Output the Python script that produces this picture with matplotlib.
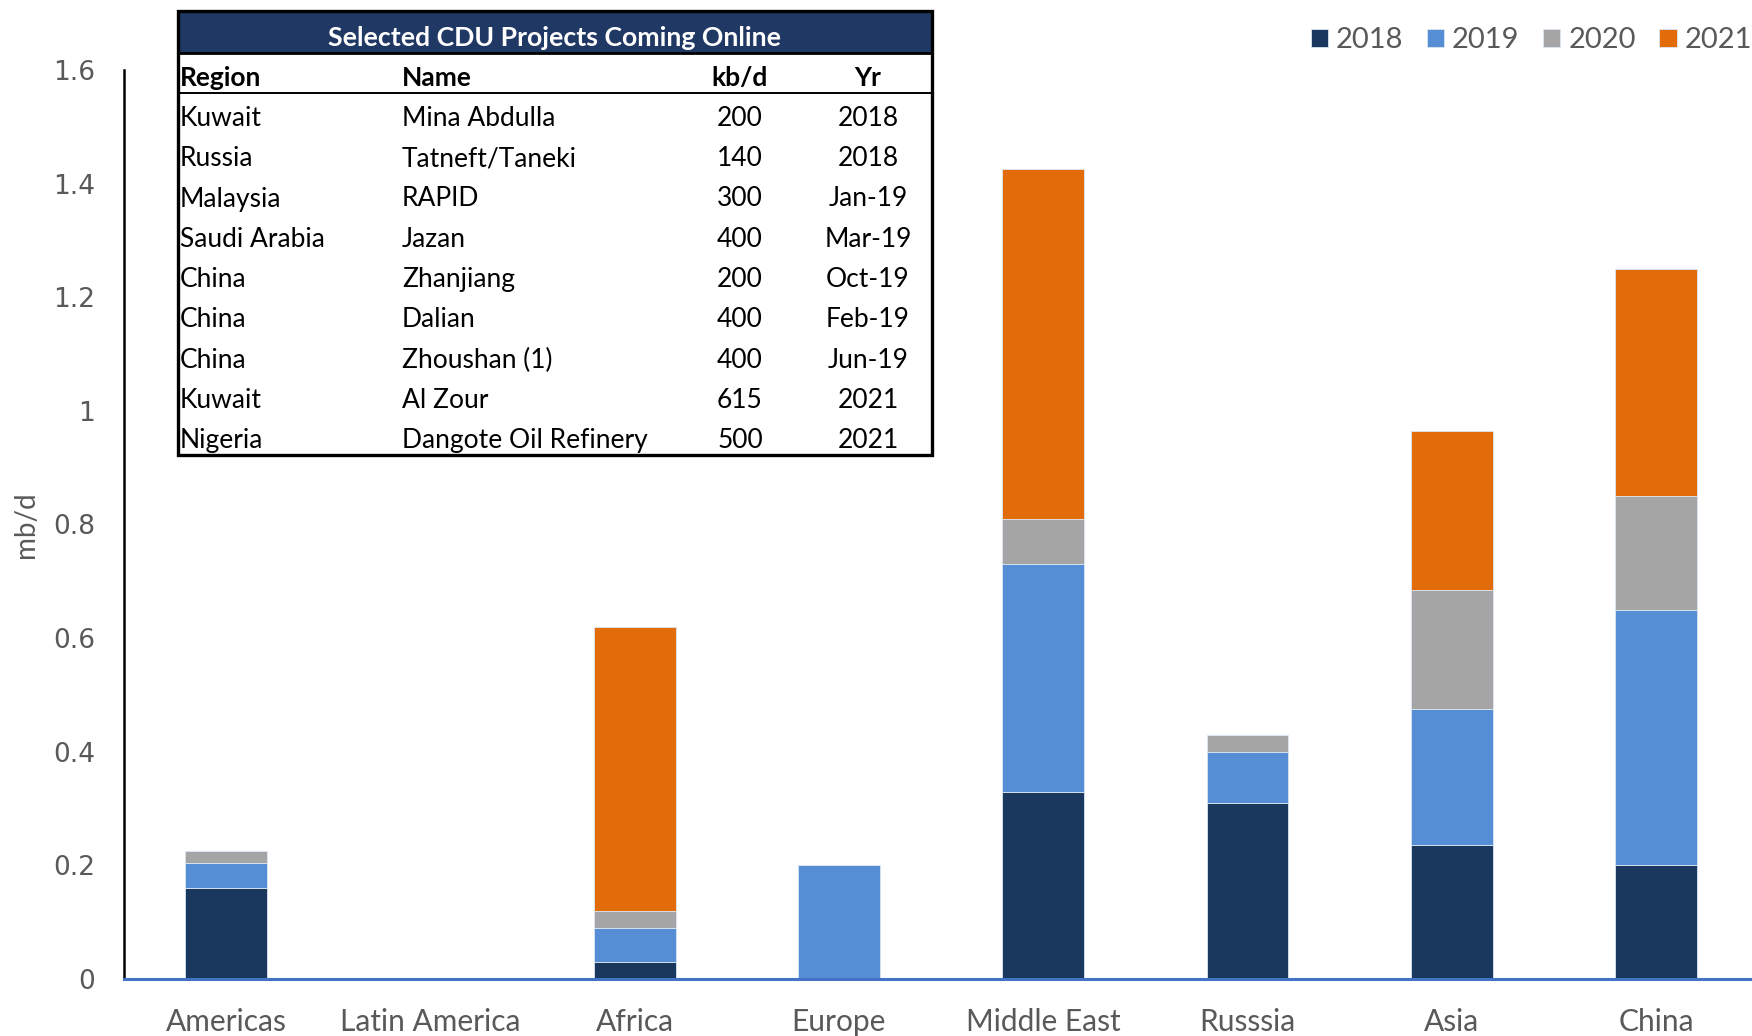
import matplotlib.pyplot as plt
import numpy as np
from matplotlib.patches import Rectangle

categories = ["Americas", "Latin America", "Africa", "Europe",
              "Middle East", "Russsia", "Asia", "China"]
years = ["2018", "2019", "2020", "2021"]
v2018 = [0.16, 0.0, 0.03, 0.0, 0.33, 0.31, 0.235, 0.20]
v2019 = [0.045, 0.0, 0.06, 0.20, 0.40, 0.09, 0.24, 0.45]
v2020 = [0.02, 0.0, 0.03, 0.0, 0.08, 0.03, 0.21, 0.20]
v2021 = [0.0, 0.0, 0.50, 0.0, 0.615, 0.0, 0.28, 0.40]

tbl_region = ["Kuwait", "Russia", "Malaysia", "Saudi Arabia", "China",
              "China", "China", "Kuwait", "Nigeria"]
tbl_name = ["Mina Abdulla", "Tatneft/Taneki", "RAPID", "Jazan", "Zhanjiang",
            "Dalian", "Zhoushan (1)", "Al Zour", "Dangote Oil Refinery"]
tbl_kbd = ["200", "140", "300", "400", "200", "400", "400", "615", "500"]
tbl_yr = ["2018", "2018", "Jan-19", "Mar-19", "Oct-19", "Feb-19", "Jun-19",
          "2021", "2021"]

colors = ["#1a375e", "#558ed5", "#a5a5a5", "#e36c0a"]
GREY = "#595959"
FONT = "Lato"

W, H = 1752, 1036
fig = plt.figure(figsize=(W / 100, H / 100), dpi=100)
ax = fig.add_axes([124 / W, 1 - 979 / H, 1 - 124 / W, (979 - 70) / H])

x = np.arange(len(categories))
bottom = np.zeros(len(categories))
handles = []
for vals, col, lab in zip([v2018, v2019, v2020, v2021], colors, years):
    vals = np.array(vals)
    b = ax.bar(x, vals, 0.4, bottom=bottom, color=col, label=lab,
               edgecolor="#dce6f2", linewidth=0.6)
    handles.append(b)
    bottom += vals

ax.set_xlim(-0.5, 7.47)
ax.set_ylim(0, 1.6)
ax.set_yticks(np.arange(0, 1.61, 0.2))
ax.set_yticklabels(["0", "0.2", "0.4", "0.6", "0.8", "1", "1.2", "1.4", "1.6"])
ax.set_xticks(x)
ax.set_xticklabels(categories, family=FONT, fontsize=21.5, color=GREY)
ax.tick_params(axis="y", length=0, pad=21, labelsize=19, labelcolor=GREY)
ax.tick_params(axis="x", length=0, pad=21)
for s in ["top", "right"]:
    ax.spines[s].set_visible(False)
ax.spines["left"].set_color("black")
ax.spines["left"].set_linewidth(1.8)
ax.spines["bottom"].set_color("#4472c4")
ax.spines["bottom"].set_linewidth(2.2)
ax.set_ylabel("mb/d", family=FONT, fontsize=20, color=GREY)
ax.yaxis.set_label_coords(-0.052, 0.5)

fig.legend(handles=handles, loc="upper right", bbox_to_anchor=(1.015, 0.999),
           ncol=4, frameon=False, prop={"family": FONT, "size": 21},
           labelcolor=GREY, handlelength=0.6, handleheight=0.6,
           handletextpad=0.27, columnspacing=0.8)

# table overlay in pixel coordinates
tax = fig.add_axes([0, 0, 1, 1], zorder=5)
tax.set_xlim(0, W)
tax.set_ylim(H, 0)
tax.axis("off")

tx0, tx1, ty0, ty1 = 178, 932, 11, 455
tax.add_patch(Rectangle((tx0, ty0), tx1 - tx0, ty1 - ty0, facecolor="white",
                        edgecolor="none"))
tax.add_patch(Rectangle((tx0, ty0), tx1 - tx0, 42, facecolor="#203864",
                        edgecolor="none"))
tax.add_patch(Rectangle((tx0, ty0), tx1 - tx0, ty1 - ty0, facecolor="none",
                        edgecolor="black", linewidth=2.4))
tax.plot([tx0, tx1], [53, 53], color="black", lw=2.0)
tax.plot([tx0, tx1], [93, 93], color="black", lw=1.4)
tax.text((tx0 + tx1) / 2, 38, "Selected CDU Projects Coming Online",
         ha="center", va="center", color="white", fontsize=19.2,
         fontweight="bold", family=FONT)

col_x = [180, 402, 740, 868]
hy = 78
tax.text(col_x[0], hy, "Region", ha="left", va="center", fontsize=19,
         fontweight="bold", family=FONT)
tax.text(col_x[1], hy, "Name", ha="left", va="center", fontsize=19,
         fontweight="bold", family=FONT)
tax.text(col_x[2], hy, "kb/d", ha="center", va="center", fontsize=19,
         fontweight="bold", family=FONT)
tax.text(col_x[3], hy, "Yr", ha="center", va="center", fontsize=19,
         fontweight="bold", family=FONT)

for i in range(len(tbl_region)):
    y = 118.5 + i * 40.25
    tax.text(col_x[0], y, tbl_region[i], ha="left", va="center", fontsize=19,
             family=FONT)
    tax.text(col_x[1], y, tbl_name[i], ha="left", va="center", fontsize=19,
             family=FONT)
    tax.text(col_x[2], y, tbl_kbd[i], ha="center", va="center", fontsize=19,
             family=FONT)
    tax.text(col_x[3], y, tbl_yr[i], ha="center", va="center", fontsize=19,
             family=FONT)

fig.savefig("out.png", dpi=100)
